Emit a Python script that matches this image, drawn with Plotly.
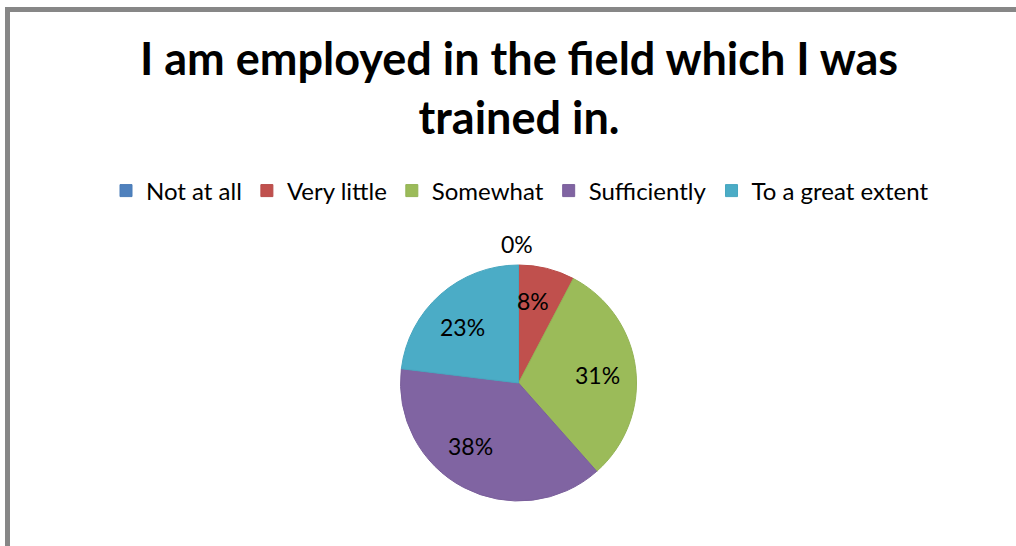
import math
import plotly.graph_objects as go

# Survey responses (number of respondents per answer)
categories = ["Not at all", "Very little", "Somewhat", "Sufficiently", "To a great extent"]
responses = [0, 1, 4, 5, 3]
colors = ["#4F81BD", "#C0504D", "#9BBB59", "#8064A2", "#4BACC6"]
edge_colors = ["#4A7CB8", "#B84B48", "#93B355", "#7A5F9B", "#47A6BF"]

title_text = "I am employed in the field which I was<br>trained in."

W, H = 1016, 546
cx, cy, R = 518.5, 383.0, 118.0  # pie centre / radius in px
FONT = "Lato"

# small best-fit nudges (px) for the slice labels
label_nudge = [(-2, 0), (-5, -4), (-1, 2), (-11, -8), (-3, 4)]

fig = go.Figure()
fig.add_trace(go.Pie(
    labels=categories,
    values=responses,
    marker=dict(colors=colors, line=dict(color=edge_colors, width=1)),
    sort=False,
    direction="clockwise",
    rotation=0,
    textinfo="none",
    hoverinfo="label+percent",
    domain=dict(x=[(cx - R) / W, (cx + R) / W],
                y=[1 - (cy + R) / H, 1 - (cy - R) / H]),
    showlegend=True,
))

# Percentage labels inside slices
total = sum(responses)
annotations = []
cum = 0.0
for v, (dx, dy) in zip(responses, label_nudge):
    frac = v / total
    mid = (cum + frac / 2) * 2 * math.pi
    rr = 0.68 * R if v > 0 else 1.18 * R
    px = cx + rr * math.sin(mid)
    py = cy - rr * math.cos(mid)
    annotations.append(dict(
        x=px / W, y=1 - py / H, xref="paper", yref="paper",
        xshift=dx, yshift=-dy,
        text=f"{round(frac * 100)}%", showarrow=False,
        font=dict(family=FONT, size=23, color="#000000"),
        xanchor="center", yanchor="middle",
    ))
    cum += frac

# Title
annotations.append(dict(
    x=518.5 / W, y=1 - 87 / H, xref="paper", yref="paper",
    text=f"<b>{title_text}</b>", showarrow=False,
    font=dict(family=FONT, size=45, color="#000000"),
    xanchor="center", yanchor="middle", align="center",
))

fig.update_layout(
    width=W, height=H,
    margin=dict(l=0, r=0, t=0, b=0),
    paper_bgcolor="#FFFFFF",
    plot_bgcolor="#FFFFFF",
    annotations=annotations,
    legend=dict(
        orientation="h",
        x=520 / W, xanchor="center",
        y=1 - 191 / H, yanchor="middle",
        font=dict(family=FONT, size=24, color="#000000"),
        itemclick=False,
    ),
    shapes=[
        # outer frame of the chart area
        dict(type="rect", xref="paper", yref="paper",
             x0=7.5 / W, x1=1.05, y0=-0.05, y1=1 - 9.5 / H,
             line=dict(color="#878787", width=5), fillcolor="rgba(0,0,0,0)"),
    ],
)

fig.write_html("out.html")
